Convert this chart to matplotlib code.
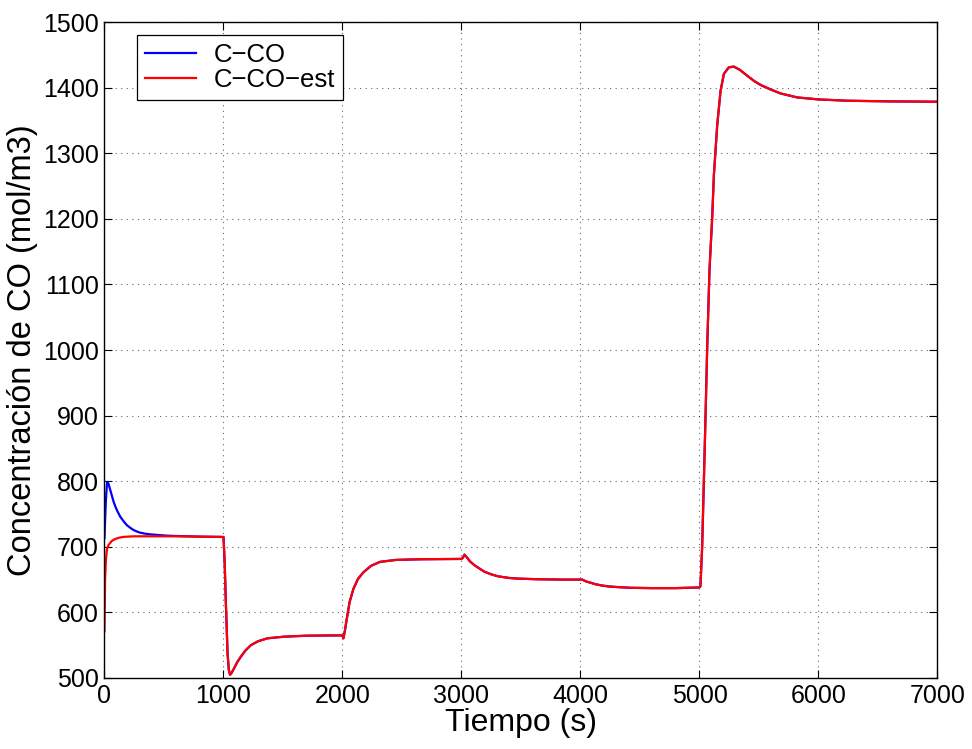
import numpy as np
import matplotlib
matplotlib.use("Agg")
import matplotlib.pyplot as plt

plt.rcParams['font.family'] = ['Liberation Sans', 'DejaVu Sans']

# Start-up transient (0-600 s): measured vs estimated CO concentration
t_start = [0, 5, 12, 20, 25, 34, 48, 62, 76, 90, 104, 118, 132, 160, 188, 216, 244, 272, 300, 340, 384, 450, 524, 600]
c_co_start = [713, 740, 772, 794, 799, 796, 787, 778, 769, 762, 756, 751, 746, 739, 733, 729, 725.6, 723.3, 721.5, 720, 719, 718, 717, 716.5]
c_co_est_start = [571, 650, 680, 695, 699, 702.6, 706, 709, 710.5, 711.8, 712.8, 713.6, 714.2, 715, 715.4, 715.7, 716, 716, 716, 716, 716, 716, 716, 716]

# From 600 s onward both signals coincide
t_common = [600, 800, 1000, 1004, 1010, 1020, 1034, 1045, 1055, 1065, 1090, 1115, 1146, 1185, 1230, 1290,
            1370, 1510, 1700, 1990, 2000, 2008, 2020, 2036, 2060, 2092, 2130, 2175, 2240, 2315, 2450,
            2650, 2850, 3000, 3010, 3025, 3045, 3070, 3108, 3150, 3193, 3250, 3307, 3400, 3475, 3650,
            3850, 4000, 4015, 4050, 4090, 4125, 4180, 4238, 4320, 4420, 4600, 4800, 5000, 5008, 5022,
            5037, 5051, 5065, 5084, 5107, 5121, 5149, 5177, 5205, 5247, 5289, 5340, 5402, 5460, 5514,
            5600, 5683, 5823, 6000, 6245, 6600, 7000]
c_common = [716, 715.5, 715, 700, 675, 614, 538, 512, 505, 507, 515, 524, 532.5, 542, 550, 556,
            560.5, 563, 564.5, 565, 564.5, 560.5, 572, 590, 616, 636, 651, 661, 671, 677, 680,
            681, 681.3, 681.5, 683, 688, 684, 678, 672, 667, 662, 658, 655, 652.5, 651.5, 650.5,
            650, 650, 650, 647, 645, 643, 641, 639.5, 638.5, 637.5, 637, 637, 638, 640, 698,
            802, 901, 1006, 1122, 1203, 1267, 1343, 1395, 1421, 1431, 1432, 1427, 1418, 1410, 1404,
            1397, 1391, 1385, 1382, 1380, 1379, 1378.5]

x_ticks = [0, 1000, 2000, 3000, 4000, 5000, 6000, 7000]
y_ticks = [500, 600, 700, 800, 900, 1000, 1100, 1200, 1300, 1400, 1500]

t_all = np.concatenate([t_start, t_common[1:]])
c_co = np.concatenate([c_co_start, c_common[1:]])
c_co_est = np.concatenate([c_co_est_start, c_common[1:]])

fig = plt.figure(figsize=(9.72, 7.49), dpi=100)
ax = fig.add_axes([0.1075, 0.0948, 0.857, 0.8758])

ax.plot(t_all, c_co, color='#0000ff', lw=1.6, label='C\u2212CO')
ax.plot(t_all, c_co_est, color='#ff0000', lw=1.6, label='C\u2212CO\u2212est')

ax.set_xlim(0, 7000)
ax.set_ylim(500, 1500)
ax.set_xticks(x_ticks)
ax.set_yticks(y_ticks)
ax.tick_params(direction='in', length=6, width=0.8, top=True, right=True,
               labelsize=18, pad=4)
ax.grid(True, linestyle=(0, (1, 4)), color='black', lw=0.8, alpha=0.6)
for s in ax.spines.values():
    s.set_linewidth(1.0)

ax.set_xlabel('Tiempo (s)', fontsize=23, labelpad=0)
ax.set_ylabel('Concentración de CO (mol/m3)', fontsize=23.5, labelpad=4)

leg = ax.legend(loc='upper left', bbox_to_anchor=(0.039, 0.980), borderaxespad=0,
                fontsize=18.5, handlelength=2.0, handletextpad=0.7, borderpad=0.3,
                labelspacing=0.05, fancybox=False, framealpha=1, edgecolor='black')
leg.get_frame().set_linewidth(0.9)

fig.savefig('out.png', dpi=100)
